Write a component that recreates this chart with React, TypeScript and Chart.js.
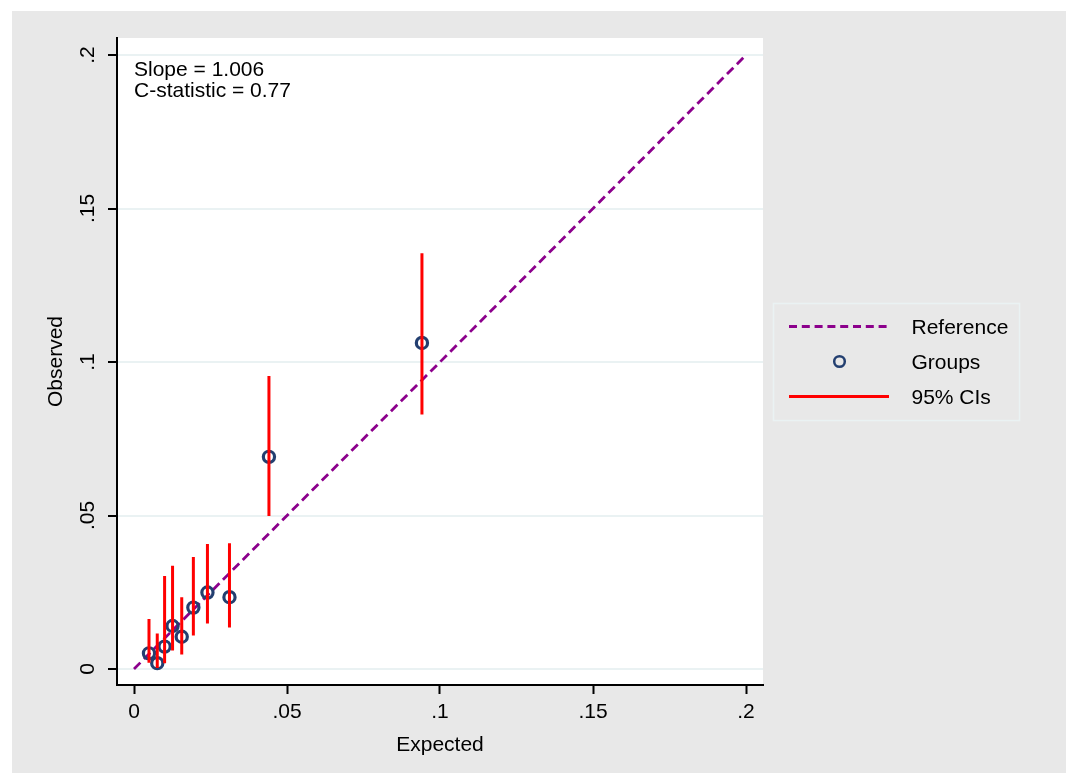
import React, { useEffect, useRef } from 'react';
import { Chart, registerables } from 'chart.js';

Chart.register(...registerables);

// ---- data ----
const expected = [0.0049, 0.0076, 0.0100, 0.0126, 0.0156, 0.0194, 0.0240, 0.0312, 0.0441, 0.0941];
const observed = [0.0051, 0.0019, 0.0073, 0.0140, 0.0105, 0.0200, 0.0249, 0.0234, 0.0691, 0.1062];
const ciLow = [0.0020, 0.0003, 0.0019, 0.0060, 0.0047, 0.0109, 0.0148, 0.0135, 0.0498, 0.0829];
const ciHigh = [0.0163, 0.0116, 0.0303, 0.0336, 0.0234, 0.0365, 0.0407, 0.0410, 0.0954, 0.1354];
const refLineX = [0, 0.2];
const refLineY = [0, 0.2];

const xTickValues = [0, 0.05, 0.1, 0.15, 0.2];
const xTickLabels = ['0', '.05', '.1', '.15', '.2'];
const yTickValues = [0, 0.05, 0.1, 0.15, 0.2];
const yTickLabels = ['0', '.05', '.1', '.15', '.2'];

const annotationLines = ['Slope = 1.006', 'C-statistic = 0.77'];
const legendLabels = ['Reference', 'Groups', '95% CIs'];
const xTitle = 'Expected';
const yTitle = 'Observed';

// ---- styles ----
const FONT = '"Liberation Sans", Arial, Helvetica, sans-serif';
const FS = 21;
const BG = '#e8e8e8';
const GRID = '#eaf2f3';
const PURPLE = '#8c008c';
const NAVY = '#233f70';
const RED = '#ff0000';

const W = 1074;
const H = 773;

export default function App() {
  const ref = useRef<HTMLCanvasElement | null>(null);

  useEffect(() => {
    const canvas = ref.current;
    if (!canvas) return;

    const ciData: { x: number; y: number | null }[] = [];
    expected.forEach((x, i) => {
      ciData.push({ x, y: ciLow[i] });
      ciData.push({ x, y: ciHigh[i] });
      ciData.push({ x, y: null });
    });

    const bgPlugin = {
      id: 'bg',
      beforeDraw(chart: any) {
        const { ctx, chartArea } = chart;
        ctx.save();
        ctx.fillStyle = '#ffffff';
        ctx.fillRect(0, 0, W, H);
        ctx.fillStyle = BG;
        ctx.fillRect(12, 11, 1066 - 12, H - 11);
        ctx.fillStyle = '#ffffff';
        ctx.fillRect(chartArea.left, chartArea.top, chartArea.right - chartArea.left, chartArea.bottom - chartArea.top);
        ctx.restore();
      },
      afterDraw(chart: any) {
        const { ctx } = chart;
        const ys = chart.scales.y;
        ctx.save();
        ctx.fillStyle = '#000';
        ctx.font = `${FS}px ${FONT}`;
        // rotated y tick labels
        yTickValues.forEach((v, i) => {
          const py = ys.getPixelForValue(v);
          ctx.save();
          ctx.translate(93.5, py);
          ctx.rotate(-Math.PI / 2);
          ctx.textAlign = 'center';
          ctx.textBaseline = 'alphabetic';
          ctx.fillText(yTickLabels[i], 0, 0);
          ctx.restore();
        });
        // annotation text
        ctx.textAlign = 'left';
        ctx.textBaseline = 'alphabetic';
        ctx.fillText(annotationLines[0], 134, 76);
        ctx.fillText(annotationLines[1], 134, 96.5);

        // legend box
        const lx = 773.5, ly = 303.5, lw = 246, lh = 117;
        ctx.fillStyle = BG;
        ctx.fillRect(lx, ly, lw, lh);
        ctx.strokeStyle = GRID;
        ctx.lineWidth = 1.5;
        ctx.strokeRect(lx, ly, lw, lh);

        const rowY = [326.5, 361.5, 396.5];
        // reference
        ctx.strokeStyle = PURPLE;
        ctx.lineWidth = 3;
        ctx.setLineDash([8, 4.8]);
        ctx.beginPath();
        ctx.moveTo(789, rowY[0]);
        ctx.lineTo(889, rowY[0]);
        ctx.stroke();
        ctx.setLineDash([]);
        // groups marker
        ctx.strokeStyle = NAVY;
        ctx.lineWidth = 2.5;
        ctx.beginPath();
        ctx.arc(839.5, rowY[1], 5.3, 0, Math.PI * 2);
        ctx.stroke();
        // CI line
        ctx.strokeStyle = RED;
        ctx.lineWidth = 3;
        ctx.beginPath();
        ctx.moveTo(789, rowY[2]);
        ctx.lineTo(889, rowY[2]);
        ctx.stroke();

        ctx.fillStyle = '#000';
        ctx.textBaseline = 'alphabetic';
        legendLabels.forEach((t, i) => {
          ctx.fillText(t, 911.5, rowY[i] + 7.5);
        });
        ctx.restore();
      },
    };

    const chart = new Chart(canvas, {
      type: 'scatter',
      data: {
        datasets: [
          {
            type: 'line',
            label: legendLabels[2],
            data: ciData as any,
            borderColor: RED,
            borderWidth: 3,
            pointRadius: 0,
            showLine: true,
            spanGaps: false,
            order: 0,
          },
          {
            type: 'scatter',
            label: legendLabels[1],
            data: expected.map((x, i) => ({ x, y: observed[i] })),
            borderColor: NAVY,
            backgroundColor: 'rgba(0,0,0,0)',
            borderWidth: 3.2,
            pointRadius: 5.6,
            pointStyle: 'circle',
            order: 1,
          },
          {
            type: 'line',
            label: legendLabels[0],
            data: refLineX.map((x, i) => ({ x, y: refLineY[i] })),
            borderColor: PURPLE,
            borderWidth: 2.8,
            borderDash: [9, 5],
            pointRadius: 0,
            showLine: true,
            order: 2,
          },
        ],
      },
      options: {
        responsive: false,
        maintainAspectRatio: false,
        animation: false,
        devicePixelRatio: 1,
        events: [],
        layout: { padding: { left: 0, top: 38, right: W - 763, bottom: 0 } },
        plugins: {
          legend: { display: false },
          tooltip: { enabled: false },
          title: { display: false },
        },
        scales: {
          x: {
            type: 'linear',
            position: 'bottom',
            min: -17 / 3060,
            max: 0.2 + 17 / 3060,
            afterBuildTicks: (scale: any) => {
              scale.ticks = xTickValues.map((v) => ({ value: v }));
            },
            afterFit: (scale: any) => {
              scale.height = H - 685;
            },
            ticks: {
              autoSkip: false,
              maxRotation: 0,
              minRotation: 0,
              padding: 6,
              color: '#000',
              font: { family: FONT, size: FS },
              callback: (_v: any, i: number) => xTickLabels[i],
            },
            grid: {
              display: true,
              drawOnChartArea: false,
              drawTicks: true,
              tickLength: 9,
              tickWidth: 2,
              tickColor: '#000',
              color: '#000',
            },
            border: { display: true, color: '#000', width: 2 },
            title: {
              display: true,
              text: xTitle,
              color: '#000',
              font: { family: FONT, size: FS },
              padding: { top: 0, bottom: 15 },
            },
          },
          y: {
            type: 'linear',
            position: 'left',
            min: -16 / 3070,
            max: 0.2 + 17 / 3070,
            afterBuildTicks: (scale: any) => {
              scale.ticks = yTickValues.map((v) => ({ value: v }));
            },
            afterFit: (scale: any) => {
              scale.width = 117;
            },
            ticks: { display: false },
            grid: {
              display: true,
              drawOnChartArea: true,
              drawTicks: true,
              tickLength: 9,
              tickWidth: 2,
              tickColor: '#000',
              color: GRID,
              lineWidth: 2,
            },
            border: { display: true, color: '#000', width: 2 },
            title: {
              display: true,
              text: yTitle,
              color: '#000',
              font: { family: FONT, size: FS },
              padding: { top: 44, bottom: 0 },
            },
          },
        },
      },
      plugins: [bgPlugin],
    } as any);

    return () => chart.destroy();
  }, []);

  return (
    <div style={{ position: 'fixed', left: 0, top: 0, width: W, height: H }}>
      <canvas ref={ref} width={W} height={H} style={{ width: W, height: H, display: 'block' }} />
    </div>
  );
}
